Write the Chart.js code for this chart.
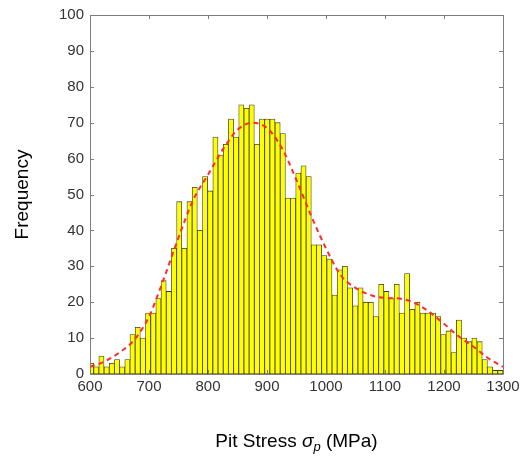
<!DOCTYPE html>
<html>
<head>
<meta charset="utf-8">
<script src="https://cdn.jsdelivr.net/npm/chart.js@4.4.0/dist/chart.umd.min.js"></script>
<style>
  html, body { margin: 0; padding: 0; background: #fff; }
</style>
</head>
<body>
<canvas id="hist" width="521" height="456"></canvas>
<script>
// histogram bins (centre of each bin, MPa) and counts
const binCenters = [
  601.9, 610.7, 619.4, 628.2, 637.0, 645.8, 654.6, 663.4, 672.1, 680.9,
  689.7, 698.5, 707.3, 716.0, 724.8, 733.6, 742.4, 751.2, 759.9, 768.7,
  777.5, 786.3, 795.1, 803.8, 812.6, 821.4, 830.2, 839.0, 847.7, 856.5,
  865.3, 874.1, 882.9, 891.6, 900.4, 909.2, 918.0, 926.8, 935.5, 944.3,
  953.1, 961.9, 970.7, 979.4, 988.2, 997.0, 1005.8, 1014.6, 1023.3, 1032.1,
  1040.9, 1049.7, 1058.5, 1067.2, 1076.0, 1084.8, 1093.6, 1102.4, 1111.1, 1119.9,
  1128.7, 1137.5, 1146.3, 1155.0, 1163.8, 1172.6, 1181.4, 1190.2, 1198.9, 1207.7,
  1216.5, 1225.3, 1234.1, 1242.8, 1251.6, 1260.4, 1269.2, 1278.0, 1286.7, 1295.5
];
const counts = [
  3, 2, 5, 2, 3, 4, 2, 4, 11, 13,
  10, 17, 17, 21, 26, 23, 35, 48, 35, 48,
  52, 40, 55, 51, 66, 61, 64, 71, 66, 75,
  74, 75, 64, 71, 71, 71, 70, 67, 49, 49,
  56, 58, 55, 36, 36, 33, 32, 22, 29, 30,
  24, 19, 24, 20, 20, 16, 25, 23, 21, 25,
  17, 28, 18, 20, 17, 17, 17, 16, 11, 12,
  6, 15, 10, 9, 10, 9, 4, 2, 1, 1
];

// fitted density curve (red dashed)
const fitX = [600, 625, 650, 675, 700, 725, 750, 775, 800, 825, 850, 875, 900, 925, 950,
  975, 1000, 1025, 1050, 1075, 1100, 1125, 1150, 1175, 1200, 1225, 1250, 1275, 1300];
const fitY = [2, 3.5, 6, 9.5, 16, 26.5, 38, 48.5, 55.5, 62.5, 68, 70, 68.5, 63, 54,
  44, 35, 27.5, 24, 22, 21.2, 21, 19.8, 17.3, 14, 10.5, 7.6, 4.4, 2];

const xTicks = [600, 700, 800, 900, 1000, 1100, 1200, 1300];
const yTicks = [0, 10, 20, 30, 40, 50, 60, 70, 80, 90, 100];

const xLabel = { pre: 'Pit Stress ', sym: 'σ', sub: 'p', post: ' (MPa)' };
const yLabel = 'Frequency';

const textColor = '#333333';
const boxColor = '#7d7d7d';
const fontFamily = '"Liberation Sans", Arial, Helvetica, sans-serif';

// MATLAB-style box with inward ticks plus the axis titles
const matlabAxes = {
  id: 'matlabAxes',
  afterDatasetsDraw(chart) {
    const { ctx, chartArea: a, scales } = chart;
    const len = 4;
    ctx.save();
    ctx.strokeStyle = boxColor;
    ctx.lineWidth = 1;
    ctx.beginPath();
    ctx.rect(Math.round(a.left) + 0.5, Math.round(a.top) + 0.5,
      Math.round(a.right - a.left), Math.round(a.bottom - a.top));
    xTicks.forEach(v => {
      const x = Math.round(scales.x.getPixelForValue(v)) + 0.5;
      ctx.moveTo(x, a.bottom); ctx.lineTo(x, a.bottom - len);
      ctx.moveTo(x, a.top); ctx.lineTo(x, a.top + len);
    });
    yTicks.forEach(v => {
      const y = Math.round(scales.y.getPixelForValue(v)) + 0.5;
      ctx.moveTo(a.left, y); ctx.lineTo(a.left + len, y);
      ctx.moveTo(a.right, y); ctx.lineTo(a.right - len, y);
    });
    ctx.stroke();
    ctx.restore();
  },
  afterDraw(chart) {
    const { ctx, chartArea: a } = chart;
    ctx.save();
    ctx.fillStyle = '#000';
    ctx.textBaseline = 'alphabetic';

    // x title with italic sigma and subscript p
    const big = '19px ' + fontFamily;
    const bigIt = 'italic 19px ' + fontFamily;
    const small = 'italic 13px ' + fontFamily;
    ctx.font = big; const w1 = ctx.measureText(xLabel.pre).width;
    ctx.font = bigIt; const w2 = ctx.measureText(xLabel.sym).width;
    ctx.font = small; const w3 = ctx.measureText(xLabel.sub).width;
    ctx.font = big; const w4 = ctx.measureText(xLabel.post).width;
    let x = (a.left + a.right) / 2 - (w1 + w2 + w3 + w4) / 2;
    const base = 447;
    ctx.textAlign = 'left';
    ctx.font = big; ctx.fillText(xLabel.pre, x, base); x += w1;
    ctx.font = bigIt; ctx.fillText(xLabel.sym, x, base); x += w2;
    ctx.font = small; ctx.fillText(xLabel.sub, x, base + 4); x += w3;
    ctx.font = big; ctx.fillText(xLabel.post, x, base);

    // y title
    ctx.translate(28, (a.top + a.bottom) / 2);
    ctx.rotate(-Math.PI / 2);
    ctx.textAlign = 'center';
    ctx.font = big;
    ctx.fillText(yLabel, 0, 0);
    ctx.restore();
  }
};

const ctx = document.getElementById('hist').getContext('2d');

new Chart(ctx, {
  type: 'bar',
  data: {
    datasets: [
      {
        type: 'line',
        data: fitX.map((x, i) => ({ x, y: fitY[i] })),
        borderColor: '#ff2a2a',
        borderWidth: 2,
        borderDash: [5, 4],
        pointRadius: 0,
        cubicInterpolationMode: 'monotone',
        fill: false,
        order: 0
      },
      {
        type: 'bar',
        data: binCenters.map((x, i) => ({ x, y: counts[i] })),
        backgroundColor: '#ffff00',
        borderColor: '#3a3a3a',
        borderWidth: 0.8,
        borderSkipped: false,
        barPercentage: 1,
        categoryPercentage: 1,
        clip: 0,
        order: 1
      }
    ]
  },
  options: {
    responsive: false,
    animation: false,
    devicePixelRatio: 1,
    layout: { padding: { top: 15, right: 18, left: 0, bottom: 0 } },
    plugins: {
      legend: { display: false },
      tooltip: { enabled: false }
    },
    scales: {
      x: {
        type: 'linear',
        min: 600,
        max: 1300,
        offset: false,
        afterBuildTicks: s => { s.ticks = xTicks.map(v => ({ value: v })); },
        afterFit: s => { s.height = 82; s.paddingLeft = 0; s.paddingRight = 0; },
        grid: { display: false, drawTicks: false, offset: false },
        border: { display: false },
        ticks: {
          color: textColor,
          font: { family: fontFamily, size: 15 },
          padding: 4,
          maxRotation: 0,
          autoSkip: false,
          callback: v => String(v)
        }
      },
      y: {
        min: 0,
        max: 100,
        afterBuildTicks: s => { s.ticks = yTicks.map(v => ({ value: v })); },
        afterFit: s => { s.width = 90; s.paddingTop = 0; s.paddingBottom = 0; },
        grid: { display: false, drawTicks: false },
        border: { display: false },
        ticks: {
          color: textColor,
          font: { family: fontFamily, size: 15 },
          padding: 6,
          callback: v => String(v)
        }
      }
    }
  },
  plugins: [matlabAxes]
});
</script>
</body>
</html>
